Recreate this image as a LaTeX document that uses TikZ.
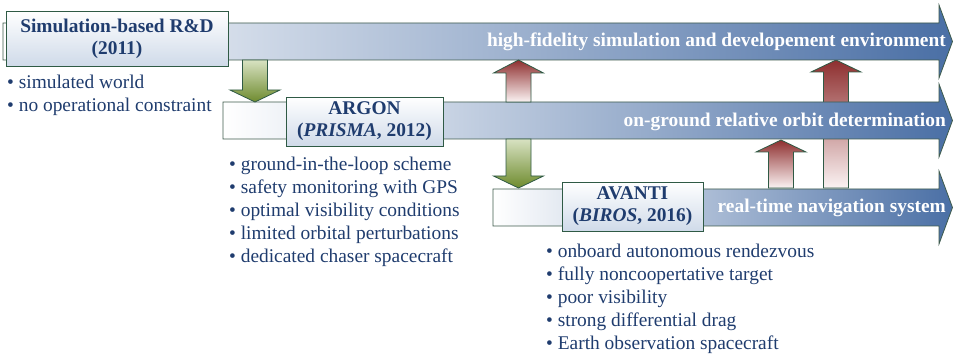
\documentclass[tikz,border=0pt]{standalone}
\usepackage{fontspec}
\setmainfont{Liberation Serif}
\definecolor{navy}{HTML}{1F3C6E}
\definecolor{arrowblue}{HTML}{4A6FA5}
\definecolor{arrowline}{HTML}{3E5B4C}
\definecolor{boxline}{HTML}{2F5A45}
\definecolor{boxblue}{HTML}{CFDAE9}
\definecolor{greentop}{HTML}{D8E2C2}
\definecolor{greenbot}{HTML}{6E8B2E}
\definecolor{redtop}{HTML}{8E2F2F}
\definecolor{redbot}{HTML}{FBF3F3}
\tikzset{
  bigarrow/.style={draw=arrowline,line width=0.8pt,left color=white,right color=arrowblue},
  downarrow/.style={draw=boxline,line width=0.8pt,top color=greentop,bottom color=greenbot},
  uparrow/.style={draw=boxline,line width=0.8pt,top color=redtop,bottom color=redbot},
  phasebox/.style={draw=boxline,line width=0.8pt,top color=white,bottom color=boxblue,
    text=navy,align=center,inner sep=0pt,font=\fontsize{19.4}{22}\selectfont\bfseries},
  arrowlabel/.style={text=white,anchor=base east,inner sep=0pt,font=\fontsize{19.4}{22}\selectfont\bfseries},
  bullets/.style={text=navy,anchor=north west,align=left,inner sep=0pt,font=\fontsize{19.4}{23}\selectfont}
}
% horizontal capability arrow: start x, centre y
\newcommand{\timeline}[2]{%
  \draw[bigarrow] (#1,{#2-18.5}) -- (939,{#2-18.5}) -- (939,{#2-36.5}) -- (952.5,#2)
    -- (939,{#2+36.5}) -- (939,{#2+18.5}) -- (#1,{#2+18.5}) -- cycle;}
% vertical block arrow: style, centre x, start y, head base y, tip y
\newcommand{\blockarrow}[5]{%
  \draw[#1] ({#2-12.5},#3) -- ({#2-12.5},#4) -- ({#2-25},#4) -- (#2,#5)
    -- ({#2+25},#4) -- ({#2+12.5},#4) -- ({#2+12.5},#3) -- cycle;}
\begin{document}
\begin{tikzpicture}[x=1pt,y=-1pt]
  \useasboundingbox (0,0) rectangle (953,355);
  \blockarrow{uparrow}{836}{188}{72}{60}
  \timeline{3}{41.5}
  \timeline{223}{120.5}
  \timeline{493}{207.5}
  \blockarrow{downarrow}{255}{60}{90}{102}
  \blockarrow{downarrow}{518.5}{139}{176}{188}
  \blockarrow{uparrow}{518.5}{102}{73}{60}
  \blockarrow{uparrow}{781}{188}{152}{140}
  % phases
  \node[phasebox,minimum width=222,minimum height=55] (simbox) at (117,38.5)
    {Simulation-based R\&D\\(2011)};
  \node[phasebox,minimum width=157,minimum height=49] (argon) at (364.5,121.5)
    {ARGON\\(\textit{PRISMA}, 2012)};
  \node[phasebox,minimum width=141,minimum height=49] (avanti) at (632.5,206.5)
    {AVANTI\\(\textit{BIROS}, 2016)};
  % capabilities
  \node[arrowlabel] (hifi) at (946,47) {high-fidelity simulation and developement environment};
  \node[arrowlabel] (orbit) at (946,127) {on-ground relative orbit determination};
  \node[arrowlabel] (nav) at (946,213) {real-time navigation system};
  % features
  \node[bullets] (simlist) at (7,75) {\textbullet\ simulated world\\
    \textbullet\ no operational constraint};
  \node[bullets] (argonlist) at (229,157) {\textbullet\ ground-in-the-loop scheme\\
    \textbullet\ safety monitoring with GPS\\
    \textbullet\ optimal visibility conditions\\
    \textbullet\ limited orbital perturbations\\
    \textbullet\ dedicated chaser spacecraft};
  \node[bullets] (avantilist) at (546,244) {\textbullet\ onboard autonomous rendezvous\\
    \textbullet\ fully noncoopertative target\\
    \textbullet\ poor visibility\\
    \textbullet\ strong differential drag\\
    \textbullet\ Earth observation spacecraft};
\end{tikzpicture}
\end{document}
